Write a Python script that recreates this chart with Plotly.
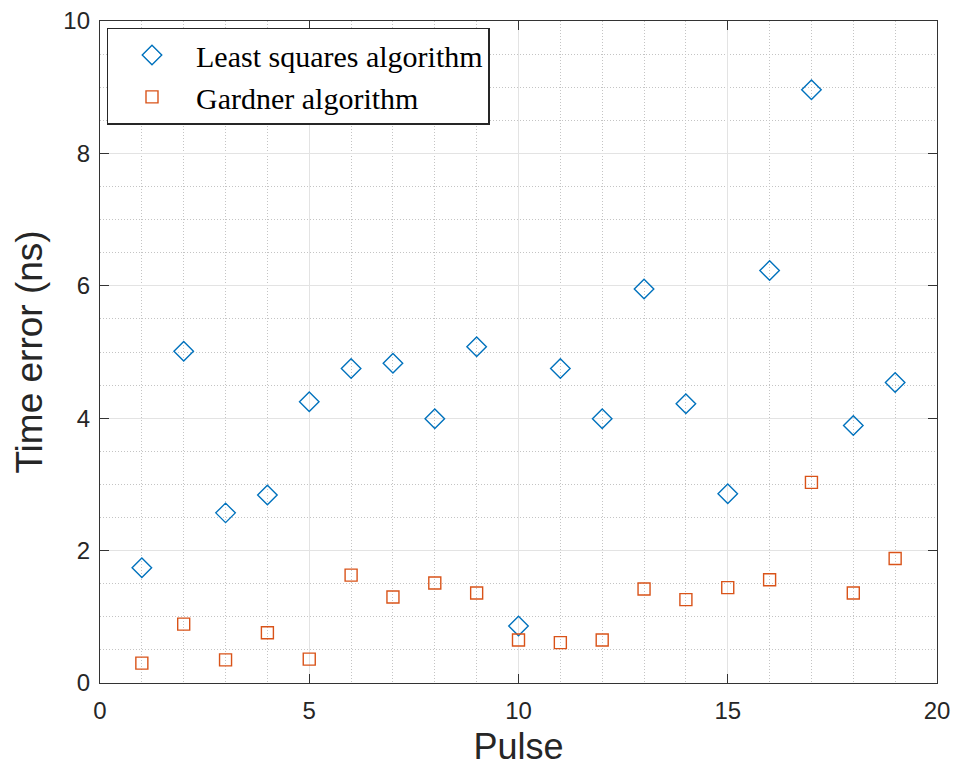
import plotly.graph_objects as go

pulses = list(range(1, 20))
least_squares = [1.74, 5.01, 2.57, 2.84, 4.25, 4.75, 4.83, 3.99, 5.08, 0.86,
                 4.75, 3.99, 5.95, 4.22, 2.86, 6.23, 8.96, 3.89, 4.54]
gardner = [0.30, 0.89, 0.35, 0.76, 0.36, 1.63, 1.30, 1.51, 1.36, 0.65,
           0.61, 0.65, 1.42, 1.26, 1.44, 1.56, 3.03, 1.36, 1.88]

fig = go.Figure()
fig.add_trace(go.Scatter(
    x=pulses, y=least_squares, mode="markers", name="Least squares algorithm",
    marker=dict(symbol="diamond-open", size=15, color="#0072BD", line=dict(width=1.4, color="#0072BD"))))
fig.add_trace(go.Scatter(
    x=pulses, y=gardner, mode="markers", name="Gardner algorithm",
    marker=dict(symbol="square-open", size=12, color="#D95319", line=dict(width=1.4, color="#D95319"))))

axis_common = dict(
    showline=True, linecolor="#333333", linewidth=1.3, mirror="ticks",
    ticks="inside", ticklen=9, tickcolor="#333333", tickwidth=1.3,
    showgrid=True, gridcolor="#E3E3E3", gridwidth=1, zeroline=False,
    tickfont=dict(family="Liberation Sans, Arial", size=24, color="#262626"),
)
minor_common = dict(showgrid=True, gridcolor="#C4C4C4", griddash="1px,2px", gridwidth=1, ticks="")

fig.update_layout(
    width=959, height=767,
    margin=dict(l=100, r=22, t=21, b=84),
    paper_bgcolor="white", plot_bgcolor="white",
    xaxis=dict(range=[0, 20], dtick=5, tick0=0, automargin=False, ticklabelstandoff=6,
               title=dict(text="Pulse", font=dict(family="Liberation Sans, Arial", size=36, color="#262626"), standoff=22),
               minor=dict(dtick=1, **minor_common),
               **axis_common),
    yaxis=dict(range=[0, 10], dtick=2, tick0=0, automargin=False, ticklabelstandoff=4,
               title=dict(text="Time error (ns)", font=dict(family="Liberation Sans, Arial", size=37, color="#262626"), standoff=9),
               minor=dict(dtick=0.5, **minor_common),
               **axis_common),
    legend=dict(x=0.008, y=0.99, xanchor="left", yanchor="top",
                bgcolor="white", bordercolor="#262626", borderwidth=1.3,
                font=dict(family="Liberation Serif, Times New Roman", size=30, color="black"),
                tracegroupgap=0, itemwidth=78),
    showlegend=True,
)

fig.write_html("out.html", config={"displayModeBar": False},
               post_script="document.body.style.margin='0';")
